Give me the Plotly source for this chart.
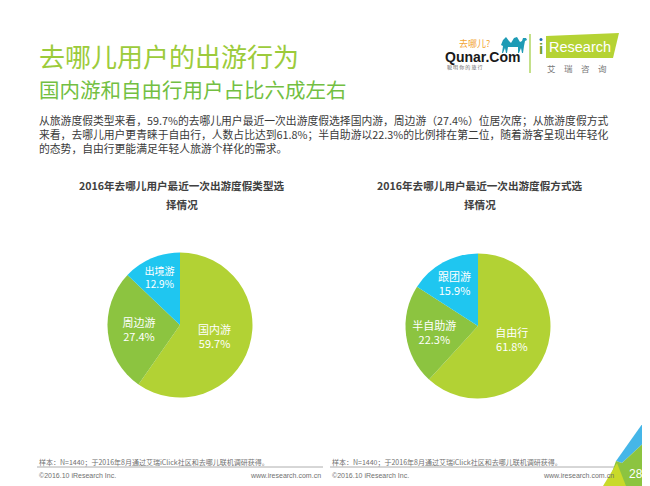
import plotly.graph_objects as go

PAGE_W, PAGE_H = 650, 486
OFF = 8  # default body margin of the page
W, H = PAGE_W - OFF, PAGE_H - OFF

# ---- data ----
type_labels = ["国内游", "周边游", "出境游"]
type_values = [59.7, 27.4, 12.9]
mode_labels = ["自由行", "半自助游", "跟团游"]
mode_values = [61.8, 22.3, 15.9]
slice_colors = ["#B2D234", "#8CC440", "#1FC6F0"]

title_text = "去哪儿用户的出游行为"
subtitle_text = "国内游和自由行用户占比六成左右"
body_lines = [
    "从旅游度假类型来看，59.7%的去哪儿用户最近一次出游度假选择国内游，周边游（27.4%）位居次席；从旅游度假方式",
    "来看，去哪儿用户更青睐于自由行，人数占比达到61.8%；半自助游以22.3%的比例排在第二位，随着游客呈现出年轻化",
    "的态势，自由行更能满足年轻人旅游个样化的需求。",
]
chart_titles = [
    ["2016年去哪儿用户最近一次出游度假类型选", "择情况"],
    ["2016年去哪儿用户最近一次出游度假方式选", "择情况"],
]
source_note = "样本：N=1440；于2016年8月通过艾瑞iClick社区和去哪儿联机调研获得。"
copyright_text = "©2016.10 iResearch Inc."
site_text = "www.iresearch.com.cn"
page_no = "28"

CJK = "Noto Sans CJK SC"


def px(x):
    return (x - OFF) / W


def py(y):
    return 1 - (y - OFF) / H


def poly(points):
    return "M " + " L ".join("{} {}".format(px(x), py(y)) for x, y in points) + " Z"


fig = go.Figure()


def pie_domain(cx, cy, r):
    return dict(x=[px(cx - r), px(cx + r)], y=[py(cy + r), py(cy - r)])


for labels, values, (cx, cy) in [
    (type_labels, type_values, (180, 325)),
    (mode_labels, mode_values, (478, 326)),
]:
    fig.add_trace(go.Pie(
        labels=labels,
        values=values,
        sort=False,
        direction="clockwise",
        rotation=0,
        marker=dict(colors=slice_colors, line=dict(width=0)),
        texttemplate="%{label}<br>%{value:.1f}%",
        textposition="inside",
        insidetextorientation="horizontal",
        textfont=dict(family=CJK, size=11, color="white"),
        domain=pie_domain(cx, cy, 72.5),
        showlegend=False,
        hoverinfo="label+value",
    ))

ann = []
ann.append(dict(text=title_text, x=px(37), y=py(55), xanchor="left", yanchor="middle",
                font=dict(family=CJK, size=26, color="#9CCB3B")))
ann.append(dict(text=subtitle_text, x=px(37), y=py(89), xanchor="left", yanchor="middle",
                font=dict(family=CJK, size=20.5, color="#73BF42")))
ann.append(dict(text="<br>".join(body_lines), x=px(37), y=py(134), xanchor="left", yanchor="middle",
                align="left", font=dict(family=CJK, size=10.8, color="#3A3A3A")))
for lines, cx in zip(chart_titles, [182, 480]):
    for line, yy in zip(lines, [185, 204]):
        ann.append(dict(text="<b>" + line + "</b>", x=px(cx), y=py(yy),
                        xanchor="center", yanchor="middle", align="center",
                        font=dict(family=CJK, size=10.6, color="#404040")))

# footers
for x0, x1 in [(37, 323), (330, 616)]:
    ann.append(dict(text=source_note, x=px(x0), y=py(462), xanchor="left", yanchor="middle",
                    font=dict(family=CJK, size=7, color="#707070")))
    ann.append(dict(text=copyright_text, x=px(x0), y=py(475.5), xanchor="left", yanchor="middle",
                    font=dict(family="Liberation Sans", size=7, color="#707070")))
    ann.append(dict(text=site_text, x=px(x1), y=py(475.5), xanchor="right", yanchor="middle",
                    font=dict(family="Liberation Sans", size=7, color="#707070")))

ann.append(dict(text=page_no, x=px(636), y=py(474), xanchor="center", yanchor="middle",
                font=dict(family="Liberation Sans", size=12, color="white")))

# logos
ann.append(dict(text="去哪儿?", x=px(458), y=py(43.5), xanchor="left", yanchor="middle", borderpad=0,
                font=dict(family=CJK, size=9, color="#F2A531")))
ann.append(dict(text="<b>Qunar.Com</b>", x=px(444), y=py(56.5), xanchor="left", yanchor="middle", borderpad=0,
                font=dict(family="Liberation Sans", size=14, color="#1A1A1A")))
ann.append(dict(text="聪 明 你 的 旅 行", x=px(446), y=py(67), xanchor="left", yanchor="middle", borderpad=0,
                font=dict(family=CJK, size=5, color="#666666")))
ann.append(dict(text="<b>i</b>", x=px(541), y=py(48), xanchor="center", yanchor="middle", borderpad=0,
                font=dict(family="Liberation Sans", size=15, color="#6E9E2E")))
ann.append(dict(text="Research", x=px(548), y=py(47), xanchor="left", yanchor="middle", borderpad=0,
                font=dict(family="Liberation Sans", size=14.5, color="white")))
ann.append(dict(text="艾　瑞　咨　询", x=px(546), y=py(68), xanchor="left", yanchor="middle", borderpad=0,
                font=dict(family=CJK, size=8.5, color="#777777")))

for a in ann:
    a.update(xref="paper", yref="paper", showarrow=False)

shapes = []
# qunar / iresearch separator
shapes.append(dict(type="line", x0=px(530), x1=px(530), y0=py(34), y1=py(73),
                   line=dict(color="#9CCB3B", width=1.2)))
# iresearch parallelogram
shapes.append(dict(type="path", path=poly([(546, 36), (619, 33), (613, 58), (546, 58)]),
                   fillcolor="#B5D334", line=dict(width=0)))
# blue dot of i
shapes.append(dict(type="circle", x0=px(539.5), x1=px(542.5), y0=py(41), y1=py(38),
                   fillcolor="#1F6FB5", line=dict(width=0)))
# camel (stylised)
shapes.append(dict(type="path", path=poly([
    (501, 45), (503, 40), (506, 37), (509, 41), (511, 43), (514, 38), (517, 37), (520, 42),
    (522, 41), (523, 38), (526, 38), (527, 40), (525, 41), (524, 46), (523, 53), (522, 53),
    (521, 48), (519, 53), (518, 53), (518, 47), (508, 47), (507, 53), (506, 53), (505, 48),
    (503, 53), (502, 53), (503, 46)]),
    fillcolor="#1E9BB5", line=dict(width=0)))
# footer lines
for x0, x1 in [(37, 323), (330, 616)]:
    shapes.append(dict(type="line", x0=px(x0), x1=px(x1), y0=py(467), y1=py(467),
                       line=dict(color="#9A9A9A", width=0.8)))
# corner decoration
shapes.append(dict(type="path", path=poly([(650, 413), (616, 461), (622, 463), (650, 437)]),
                   fillcolor="#45B6E8", line=dict(width=0)))
shapes.append(dict(type="path", path=poly([(650, 437), (622, 463), (616, 461), (607, 486), (650, 486)]),
                   fillcolor="#8CC440", line=dict(width=0)))
shapes.append(dict(type="path", path=poly([(617, 463), (603, 486), (626, 486)]),
                   fillcolor="#C9DA2A", line=dict(width=0)))

fig.update_layout(
    width=W, height=H,
    margin=dict(l=0, r=0, t=0, b=0),
    paper_bgcolor="white", plot_bgcolor="white",
    annotations=ann, shapes=shapes,
    showlegend=False,
)

fig.write_html("out.html")
